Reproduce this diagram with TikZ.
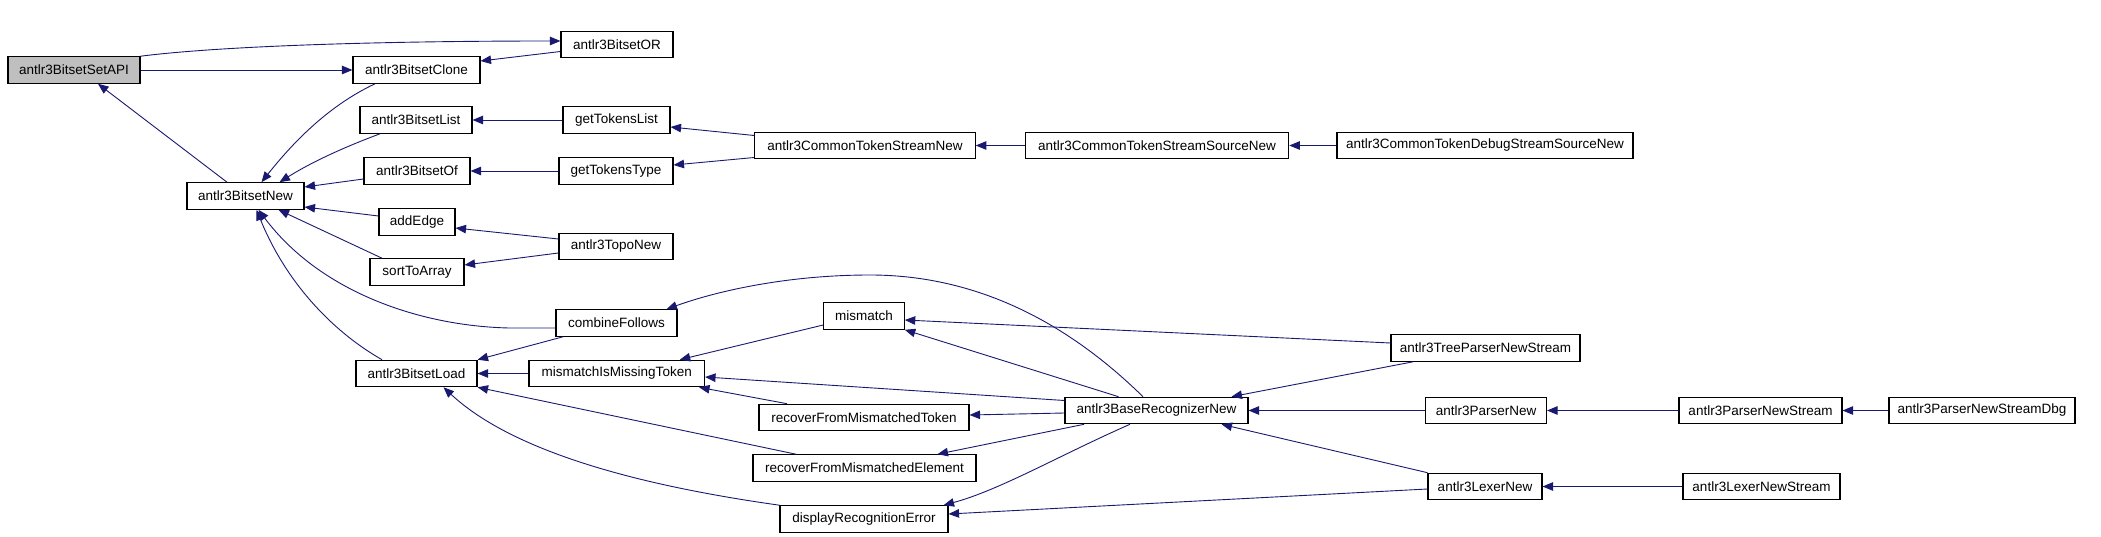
\documentclass[tikz,border=0pt]{standalone}
\usepackage{fontspec}
\setmainfont{Liberation Sans}
\usetikzlibrary{arrows.meta}
\definecolor{edgecol}{RGB}{25,25,112}
\definecolor{grayfill}{RGB}{191,191,191}
\begin{document}
\begin{tikzpicture}[x=1pt,y=-1pt,
  box/.style={draw=black, line width=1.1pt, minimum height=26.5pt, inner sep=0pt, font=\fontsize{13.5}{16}\selectfont},
  e/.style={draw=edgecol, line width=0.9pt, -{Triangle[length=10.5pt,width=8.5pt]}}]
\useasboundingbox (0,0) rectangle (2101,537);
% nodes
\node[box, fill=grayfill, minimum width=132pt] (setapi) at (74,70) {antlr3BitsetSetAPI};
\node[box, minimum width=112pt] (or) at (617,44.5) {antlr3BitsetOR};
\node[box, minimum width=127pt] (clone) at (416.5,70) {antlr3BitsetClone};
\node[box, minimum width=112pt] (list) at (416,120) {antlr3BitsetList};
\node[box, minimum width=107pt] (gtl) at (616.5,120) {getTokensList};
\node[box, minimum width=106pt] (of) at (417,171) {antlr3BitsetOf};
\node[box, minimum width=114pt] (gtt) at (616,171) {getTokensType};
\node[box, minimum width=117pt] (new) at (245.5,196) {antlr3BitsetNew};
\node[box, minimum width=76pt] (addedge) at (417,222) {addEdge};
\node[box, minimum width=114pt] (topo) at (616,246.5) {antlr3TopoNew};
\node[box, minimum width=94pt] (sort) at (417,272) {sortToArray};
\node[box, minimum width=121pt] (cf) at (616.5,323) {combineFollows};
\node[box, minimum width=121pt] (load) at (416.5,373.5) {antlr3BitsetLoad};
\node[box, minimum width=175.5pt] (mimt) at (616.75,373.5) {mismatchIsMissingToken};
\node[box, minimum width=80.5pt] (mismatch) at (864,316) {mismatch};
\node[box, minimum width=210pt] (rfmt) at (864,417.5) {recoverFromMismatchedToken};
\node[box, minimum width=223pt] (rfme) at (864.5,468) {recoverFromMismatchedElement};
\node[box, minimum width=168pt] (dre) at (864,519) {displayRecognitionError};
\node[box, minimum width=183pt] (brn) at (1156.5,410.5) {antlr3BaseRecognizerNew};
\node[box, minimum width=220.5pt] (ctsn) at (865,145.5) {antlr3CommonTokenStreamNew};
\node[box, minimum width=263.5pt] (ctssn) at (1157,145.5) {antlr3CommonTokenStreamSourceNew};
\node[box, minimum width=296pt] (ctdssn) at (1485,145.5) {antlr3CommonTokenDebugStreamSourceNew};
\node[box, minimum width=189pt] (tpns) at (1485.5,348) {antlr3TreeParserNewStream};
\node[box, minimum width=121pt] (parsernew) at (1486,410.5) {antlr3ParserNew};
\node[box, minimum width=163pt] (pns) at (1760.5,410.5) {antlr3ParserNewStream};
\node[box, minimum width=186pt] (pnsdbg) at (1982,410.5) {antlr3ParserNewStreamDbg};
\node[box, minimum width=114pt] (lexernew) at (1485,486.5) {antlr3LexerNew};
\node[box, minimum width=157pt] (lns) at (1761.5,486.5) {antlr3LexerNewStream};
% edges
\draw[e] (setapi.north east) .. controls (230,45) and (400,41) .. ([yshift=3.5pt]or.west);
\draw[e] (setapi.east) -- (clone.west);
\draw[e] ([yshift=-7pt]or.west) -- ([yshift=9pt]clone.east);
\draw[e] ([xshift=-18.5pt]new.north) -- ([xshift=24pt]setapi.south);
\draw[e] ([xshift=-41.5pt]clone.south) .. controls (330,105) and (295,140) .. ([xshift=16pt]new.north);
\draw[e] ([xshift=-36pt]list.south) .. controls (350,145) and (315,160) .. ([xshift=34pt]new.north);
\draw[e] (gtl.west) -- (list.east);
\draw[e] ([yshift=-8pt]of.west) -- ([yshift=9pt]new.east);
\draw[e] (gtt.west) -- (of.east);
\draw[e] ([yshift=6pt]addedge.west) -- ([yshift=-11pt]new.east);
\draw[e] ([yshift=7.5pt]topo.west) -- ([yshift=-6pt]addedge.east);
\draw[e] ([xshift=-35pt]sort.north) -- ([xshift=33pt]new.south);
\draw[e] ([yshift=-6.5pt]topo.west) -- ([yshift=7pt]sort.east);
\draw[e] ([yshift=10pt]ctsn.west) -- ([yshift=-7pt]gtl.east);
\draw[e] ([yshift=-12pt]ctsn.west) -- ([yshift=6pt]gtt.east);
\draw[e] (ctssn.west) -- (ctsn.east);
\draw[e] (ctdssn.west) -- (ctssn.east);
\draw[e] ([yshift=-5pt]cf.west) -- (509,328) .. controls (420,326) and (320,292) .. ([xshift=13pt]new.south);
\draw[e] ([xshift=-34.5pt]load.north) .. controls (330,330) and (285,280) .. ([xshift=11pt]new.south);
\draw[e] ([xshift=-53.5pt]cf.south) -- (load.north east);
\draw[e] (mimt.west) -- (load.east);
\draw[e] ([xshift=-13.5pt]brn.north) .. controls (1080,335) and (990,275) .. (870,275) .. controls (790,275) and (720,290) .. ([xshift=50pt]cf.north);
\draw[e] ([yshift=-9pt]mismatch.west) -- ([xshift=63pt]mimt.north);
\draw[e] ([yshift=10pt]brn.west) -- ([yshift=-3.5pt]mimt.east);
\draw[e] ([xshift=-77pt]rfmt.north) -- ([xshift=-6pt]mimt.south east);
\draw[e] ([yshift=-2.5pt]brn.west) -- ([yshift=2.5pt]rfmt.east);
\draw[e] ([xshift=-68.5pt]rfme.north) -- (load.south east);
\draw[e] ([xshift=-72.5pt]brn.south) -- ([xshift=73pt]rfme.north);
\draw[e] (dre.north west) .. controls (600,480) and (500,440) .. ([xshift=27pt]load.south);
\draw[e] ([xshift=-26.5pt]brn.south) .. controls (1060,455) and (1000,490) .. ([xshift=-5pt]dre.north east);
\draw[e] ([xshift=-38pt]brn.north) -- (mismatch.south east);
\draw[e] ([yshift=5pt]tpns.west) -- ([yshift=-4pt]mismatch.east);
\draw[e] ([xshift=-72.5pt]tpns.south) -- ([xshift=75pt]brn.north);
\draw[e] (parsernew.west) -- (brn.east);
\draw[e] (lexernew.north west) -- ([xshift=65pt]brn.south);
\draw[e] ([yshift=-2.5pt]lexernew.west) -- ([yshift=5pt]dre.east);
\draw[e] (pns.west) -- (parsernew.east);
\draw[e] (pnsdbg.west) -- (pns.east);
\draw[e] (lns.west) -- (lexernew.east);
\end{tikzpicture}
\end{document}
